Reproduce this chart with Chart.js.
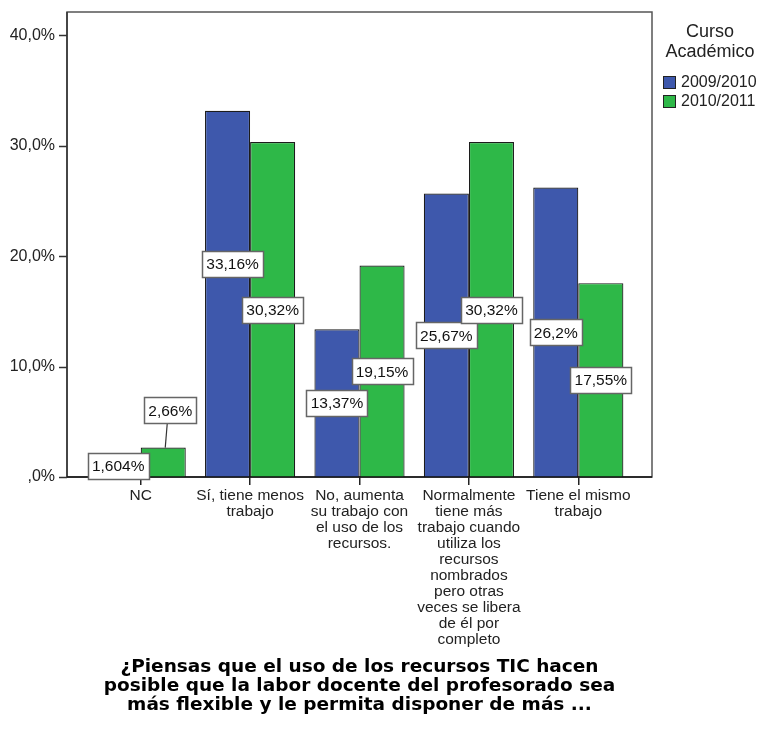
<!DOCTYPE html>
<html>
<head>
<meta charset="utf-8">
<script src="https://cdn.jsdelivr.net/npm/chart.js@4"></script>
<style>
  body { margin: 0; background: #fff; }
  #grafico { display: block; }
</style>
</head>
<body>
<canvas id="grafico" width="759" height="729"></canvas>
<script>
// categorías (etiquetas del eje X, en varias líneas)
const categorias = [
    ['NC'],
    ['Sí, tiene menos', 'trabajo'],
    ['No, aumenta', 'su trabajo con', 'el uso de los', 'recursos.'],
    ['Normalmente', 'tiene más', 'trabajo cuando', 'utiliza los', 'recursos', 'nombrados', 'pero otras', 'veces se libera', 'de él por', 'completo'],
    ['Tiene el mismo', 'trabajo']
];
const cursos = ['2009/2010', '2010/2011'];
const valores2009 = [1.604, 33.16, 13.37, 25.67, 26.2];
const valores2010 = [2.66, 30.32, 19.15, 30.32, 17.55];
const ticksY = [0, 10, 20, 30, 40];
const tituloEje = [
    '¿Piensas que el uso de los recursos TIC hacen',
    'posible que la labor docente del profesorado sea',
    'más flexible y le permita disponer de más ...'
];

const azul = '#3e58ac';
const verde = '#2eb848';

// pequeños ajustes de las etiquetas que en el original se movieron para no taparse
const ajusteEtiqueta = {
    '0:0': { dx: 0, dy: -2 },
    '1:0': { dx: 7, dy: -52, guia: true },
    '0:1': { dx: 5, dy: -30 }
};

function formato(v) {
    return String(v).replace('.', ',') + '%';
}

// marco del gráfico, marcas del eje Y y leyenda (estilo SPSS)
const marcoPlugin = {
    id: 'marco',
    beforeDatasetsDraw(chart) {
        const ctx = chart.ctx;
        const area = chart.chartArea;
        const izq = 67, der = 652;
        ctx.save();
        ctx.strokeStyle = '#555';
        ctx.lineWidth = 1.5;
        ctx.strokeRect(izq, area.top, der - izq, area.bottom - area.top);
        ctx.strokeStyle = '#333';
        ctx.beginPath();
        ctx.moveTo(izq, area.top);
        ctx.lineTo(izq, area.bottom);
        ctx.stroke();
        const y = chart.scales.y;
        ctx.lineWidth = 1.5;
        ticksY.forEach(t => {
            const py = Math.round(y.getPixelForValue(t)) + 0.5;
            ctx.beginPath();
            ctx.moveTo(59, py);
            ctx.lineTo(izq, py);
            ctx.stroke();
        });
        ctx.restore();
    },
    afterDatasetsDraw(chart) {
        const ctx = chart.ctx;
        const area = chart.chartArea;
        ctx.save();
        ctx.strokeStyle = '#111';
        ctx.lineWidth = 1.5;
        ctx.beginPath();
        ctx.moveTo(67, area.bottom);
        ctx.lineTo(652, area.bottom);
        ctx.stroke();
        ctx.restore();
    },
    afterDraw(chart) {
        const ctx = chart.ctx;
        ctx.save();
        ctx.fillStyle = '#222';
        ctx.textAlign = 'center';
        ctx.textBaseline = 'middle';
        ctx.font = '18px "Liberation Sans"';
        ctx.fillText('Curso', 710, 32);
        ctx.fillText('Académico', 710, 52);
        ctx.textAlign = 'left';
        ctx.font = '16px "Liberation Sans"';
        chart.data.datasets.forEach((ds, i) => {
            const top = 76 + i * 19;
            ctx.fillStyle = ds.backgroundColor;
            ctx.fillRect(663, top, 13, 13);
            ctx.strokeStyle = '#222';
            ctx.lineWidth = 1;
            ctx.strokeRect(663.5, top + 0.5, 12, 12);
            ctx.fillStyle = '#222';
            ctx.fillText(ds.label, 681, top + 7);
        });
        ctx.restore();
    }
};

// cajas blancas con el porcentaje de cada barra
const etiquetasPlugin = {
    id: 'etiquetas',
    afterDatasetsDraw(chart) {
        const ctx = chart.ctx;
        const base = chart.scales.y.getPixelForValue(0);
        ctx.save();
        ctx.font = '15.5px "Liberation Sans"';
        ctx.textAlign = 'center';
        ctx.textBaseline = 'middle';
        chart.data.datasets.forEach((ds, di) => {
            chart.getDatasetMeta(di).data.forEach((barra, i) => {
                const aj = ajusteEtiqueta[di + ':' + i] || { dx: 0, dy: 0 };
                const x = barra.x + aj.dx;
                const y = (barra.y + base) / 2 + aj.dy;
                const texto = formato(ds.data[i]);
                const w = Math.round(ctx.measureText(texto).width + 8);
                const h = 26;
                const bx = Math.round(x - w / 2) + 0.5;
                const by = Math.round(y - h / 2) + 0.5;
                if (aj.guia) {
                    ctx.strokeStyle = '#333';
                    ctx.lineWidth = 1.2;
                    ctx.beginPath();
                    ctx.moveTo(x - 3, by + h);
                    ctx.lineTo(barra.x + 2, barra.y);
                    ctx.stroke();
                }
                ctx.fillStyle = '#fff';
                ctx.fillRect(bx, by, w, h);
                ctx.strokeStyle = '#666';
                ctx.lineWidth = 1.5;
                ctx.strokeRect(bx, by, w, h);
                ctx.fillStyle = '#111';
                ctx.fillText(texto, x, y + 1);
            });
        });
        ctx.restore();
    }
};

Chart.defaults.font.family = '"Liberation Sans", Arial, sans-serif';
Chart.defaults.color = '#222';

const ctx = document.getElementById('grafico').getContext('2d');
const grafico = new Chart(ctx, {
    type: 'bar',
    data: {
        labels: categorias,
        datasets: [
            {
                label: cursos[0],
                data: valores2009,
                backgroundColor: azul,
                borderColor: '#1c1c1c',
                borderWidth: 1.2,
                categoryPercentage: 0.824,
                barPercentage: 1
            },
            {
                label: cursos[1],
                data: valores2010,
                backgroundColor: verde,
                borderColor: '#1c1c1c',
                borderWidth: 1.2,
                categoryPercentage: 0.824,
                barPercentage: 1
            }
        ]
    },
    options: {
        responsive: false,
        animation: false,
        layout: { padding: { top: 12, right: 126, bottom: 0, left: 0 } },
        plugins: {
            legend: { display: false },
            title: { display: false },
            tooltip: { enabled: false }
        },
        scales: {
            x: {
                offset: true,
                grid: {
                    offset: false,
                    drawOnChartArea: false,
                    drawTicks: true,
                    tickLength: 8,
                    color: '#222',
                    lineWidth: 1.5
                },
                border: { display: false },
                ticks: {
                    autoSkip: false,
                    maxRotation: 0,
                    padding: 3,
                    color: '#222',
                    font: { size: 15.5, lineHeight: '16px' }
                },
                title: {
                    display: true,
                    text: tituloEje,
                    color: '#000',
                    font: { family: '"DejaVu Sans"', size: 18.5, weight: 'bold', lineHeight: '19px' },
                    padding: { top: 0, bottom: 14.5 }
                },
                afterFit(scale) {
                    scale.height = 252;
                    scale.paddingLeft = 0;
                    scale.paddingRight = 0;
                }
            },
            y: {
                min: 0,
                max: 42.1,
                grid: { display: false, drawTicks: false },
                border: { display: false },
                ticks: {
                    stepSize: 10,
                    includeBounds: false,
                    padding: 31,
                    color: '#222',
                    font: { size: 16 },
                    callback: v => v === 0 ? ',0%' : v.toFixed(1).replace('.', ',') + '%'
                },
                afterFit(scale) {
                    scale.width = 86;
                    scale.paddingTop = 0;
                    scale.paddingBottom = 0;
                }
            }
        }
    },
    plugins: [marcoPlugin, etiquetasPlugin]
});
</script>
</body>
</html>
